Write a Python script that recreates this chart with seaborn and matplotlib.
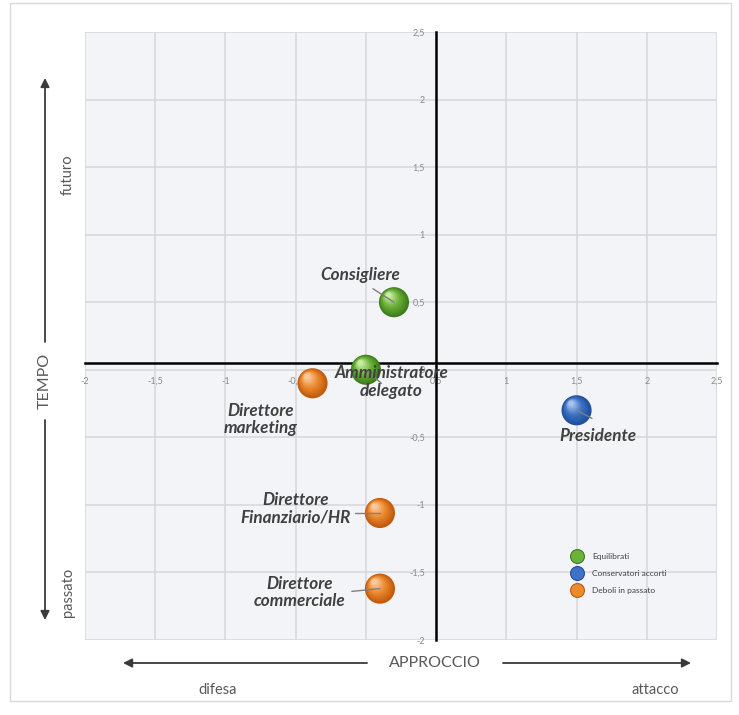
import numpy as np
import pandas as pd
import matplotlib
matplotlib.use("Agg")
import matplotlib.pyplot as plt
import matplotlib.colors as mcolors
import matplotlib.transforms as mtransforms
from matplotlib.lines import Line2D
from matplotlib.patches import Rectangle
import seaborn as sns

# ---------------- data ----------------
names = ["Consigliere", "Amministratore\ndelegato", "Direttore\nmarketing",
         "Presidente", "Direttore\nFinanziario/HR", "Direttore\ncommerciale"]
approccio = [0.2, 0.0, -0.38, 1.5, 0.1, 0.1]
tempo = [0.5, 0.0, -0.1, -0.3, -1.06, -1.62]
gruppo = ["Equilibrati", "Equilibrati", "Deboli in passato",
          "Conservatori accorti", "Deboli in passato", "Deboli in passato"]
group_order = ["Equilibrati", "Conservatori accorti", "Deboli in passato"]
x_ticks = [-2, -1.5, -1, -0.5, 0, 0.5, 1, 1.5, 2, 2.5]
x_ticklabels = ["-2", "-1,5", "-1", "-0,5", "0", "0,5", "1", "1,5", "2", "2,5"]
y_ticks = [-2, -1.5, -1, -0.5, 0, 0.5, 1, 1.5, 2, 2.5]
y_ticklabels = ["-2", "-1,5", "-1", "-0,5", "0", "0,5", "1", "1,5", "2", "2,5"]

# ---------------- styles ----------------
base_col = {"Equilibrati": "#3f7d1c", "Conservatori accorti": "#1f4f9e", "Deboli in passato": "#c25a0c"}
mid_col = {"Equilibrati": "#6cb23a", "Conservatori accorti": "#3f72c4", "Deboli in passato": "#ec8a2e"}
hi_col = {"Equilibrati": "#c8eca0", "Conservatori accorti": "#a9c4ef", "Deboli in passato": "#f9caa0"}
label_off = [(-0.24, 0.20), (0.18, -0.09), (-0.37, -0.27), (0.15, -0.19), (-0.60, 0.03), (-0.57, -0.03)]
leader_off = [(-0.15, 0.10), (0.11, -0.10), None, (0.11, -0.06), (-0.18, 0.0), (-0.20, -0.02)]

df = pd.DataFrame({"nome": names, "approccio": approccio, "tempo": tempo, "gruppo": gruppo})

sns.set_theme(style="white")
plt.rcParams["font.family"] = ["Lato", "DejaVu Sans"]

W, H = 739, 715
fig = plt.figure(figsize=(W / 100, H / 100), dpi=100)
fig.patch.set_facecolor("white")

L, R, T, B = 85, 717, 32, 640
ax = fig.add_axes([L / W, 1 - B / H, (R - L) / W, (B - T) / H])
ax.set_facecolor("#f3f4f7")

# ---------------- spheres ----------------
palette = {g: base_col[g] for g in group_order}
sns.scatterplot(data=df, x="approccio", y="tempo", hue="gruppo", hue_order=group_order,
                palette=palette, s=470, edgecolor="none", linewidth=0, legend=False,
                ax=ax, zorder=4)

diam_pt = 21.7
n_layers = 9
for i in range(1, n_layers + 1):
    f = i / n_layers
    scale = 1 - 0.82 * f
    d = diam_pt * scale
    shift = (diam_pt - d) / 2 * 0.55  # toward top-left
    tr = ax.transData + mtransforms.ScaledTranslation(-shift / 72 * 0.8, shift / 72, fig.dpi_scale_trans)
    cols = []
    for g in gruppo:
        if f < 0.5:
            c = np.array(mcolors.to_rgb(base_col[g])) * (1 - f * 2) + np.array(mcolors.to_rgb(mid_col[g])) * (f * 2)
        else:
            c = np.array(mcolors.to_rgb(mid_col[g])) * (1 - (f - 0.5) * 2) + np.array(mcolors.to_rgb(hi_col[g])) * ((f - 0.5) * 2)
        cols.append(c)
    ax.scatter(approccio, tempo, s=d ** 2, c=cols, edgecolors="none", transform=tr, zorder=4 + i * 0.01)

# ---------------- axes ----------------
ax.set_xlim(-2, 2.5)
ax.set_ylim(-2, 2.5)
ax.set_xticks(x_ticks)
ax.set_xticklabels(x_ticklabels)
ax.set_yticks(y_ticks)
ax.set_yticklabels(y_ticklabels)
ax.grid(True, color="#d6d7da", lw=1.1, zorder=0)
ax.set_axisbelow(True)

for s in ["top", "right"]:
    ax.spines[s].set_visible(False)
ax.spines["left"].set_position(("data", 0.5))
ax.spines["bottom"].set_position(("data", 0.05))
for s in ["left", "bottom"]:
    ax.spines[s].set_color("black")
    ax.spines[s].set_linewidth(1.8)
    ax.spines[s].set_zorder(2)
ax.tick_params(axis="both", length=0, labelsize=6.5, labelcolor="#8a8a8a")
ax.tick_params(axis="x", pad=10)
ax.tick_params(axis="y", pad=8)
ax.set_xlabel("")
ax.set_ylabel("")

# ---------------- leader lines & labels ----------------
for xi, yi, lo in zip(approccio, tempo, leader_off):
    if lo is None:
        continue
    ax.plot([xi + lo[0], xi], [yi + lo[1], yi], color="#7f7f7f", lw=1.0, zorder=5)

for nm, xi, yi, (dx, dy) in zip(names, approccio, tempo, label_off):
    ax.text(xi + dx, yi + dy, nm, ha="center", va="center", fontsize=12.3,
            fontweight="bold", fontstyle="italic", color="#404040",
            linespacing=1.1, zorder=6)

# ---------------- legend ----------------
handles = [Line2D([0], [0], marker="o", linestyle="none", markersize=10,
                  markerfacecolor=mid_col[g], markeredgecolor=base_col[g], markeredgewidth=0.8)
           for g in group_order]
leg = ax.legend(handles, group_order, loc="upper left",
                bbox_to_anchor=((565 - L) / (R - L), 1 - (550 - T) / (B - T)),
                frameon=False, fontsize=6, labelspacing=1.15, handletextpad=0.9,
                borderaxespad=0)
for t in leg.get_texts():
    t.set_color("#404040")

# ---------------- decorations (axis titles & arrows) ----------------
arrow_kw = dict(arrowstyle="-|>", color="#3a3a3a", lw=1.3, mutation_scale=13, shrinkA=0, shrinkB=0)
fig_ax = fig.add_axes([0, 0, 1, 1], zorder=-1)
fig_ax.set_xlim(0, W)
fig_ax.set_ylim(H, 0)
fig_ax.axis("off")
fig_ax.add_patch(Rectangle((10, 3), 721, 698, fill=False, edgecolor="#d9d9d9", lw=1.0))

# vertical
fig_ax.annotate("", xy=(45, 78), xytext=(45, 342), arrowprops=arrow_kw)
fig_ax.annotate("", xy=(45, 620), xytext=(45, 420), arrowprops=arrow_kw)
fig_ax.text(45, 381, "TEMPO", rotation=90, ha="center", va="center", fontsize=11.5, color="#595959")
fig_ax.text(68, 175, "futuro", rotation=90, ha="center", va="center", fontsize=10.5, color="#595959")
fig_ax.text(68, 592, "passato", rotation=90, ha="center", va="center", fontsize=10.5, color="#595959")

# horizontal
fig_ax.annotate("", xy=(123, 663), xytext=(367, 663), arrowprops=arrow_kw)
fig_ax.annotate("", xy=(691, 663), xytext=(503, 663), arrowprops=arrow_kw)
fig_ax.text(435, 663, "APPROCCIO", ha="center", va="center", fontsize=11.5, color="#595959")
fig_ax.text(218, 690, "difesa", ha="center", va="center", fontsize=10.5, color="#595959")
fig_ax.text(655, 690, "attacco", ha="center", va="center", fontsize=10.5, color="#595959")

fig.savefig("out.png", dpi=100, facecolor="white")
